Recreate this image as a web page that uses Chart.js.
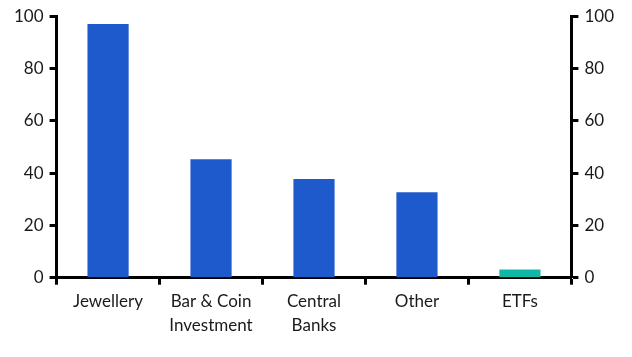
<!DOCTYPE html>
<html>
<head>
<meta charset="utf-8">
<script src="https://cdn.jsdelivr.net/npm/chart.js@4/dist/chart.umd.min.js"></script>
<style>
html,body{margin:0;padding:0;background:#fff;}
#wrap{width:632px;height:357px;position:relative;}
</style>
</head>
<body>
<div id="wrap"><canvas id="c" width="632" height="357"></canvas></div>
<script>
const categories = [["Jewellery"], ["Bar & Coin", "Investment"], ["Central", "Banks"], ["Other"], ["ETFs"]];
const values = [97, 45.3, 37.7, 32.7, 3.1];
const barColors = ["#1f5acd", "#1f5acd", "#1f5acd", "#1f5acd", "#12b8a6"];
const yTicks = [0, 20, 40, 60, 80, 100];

const font = {family: "Lato, 'Open Sans', sans-serif", size: 17};
const axisCommon = {
  min: 0, max: 100,
  border: {display: true, color: "#000", width: 3},
  grid: {drawOnChartArea: false, drawTicks: true, tickLength: 7, tickWidth: 3, tickColor: "#000"},
  ticks: {stepSize: 20, color: "#1a1a1a", font: font, padding: 6},
  afterBuildTicks: (ax) => { ax.ticks = yTicks.map(v => ({value: v})); }
};

new Chart(document.getElementById("c"), {
  type: "bar",
  data: {
    labels: categories,
    datasets: [{data: values, backgroundColor: barColors, barPercentage: 0.4, categoryPercentage: 1.0, yAxisID: "y"}]
  },
  options: {
    responsive: false,
    animation: false,
    layout: {padding: {left: 8, right: 12, top: 5, bottom: 15}},
    plugins: {legend: {display: false}, tooltip: {enabled: false}},
    scales: {
      x: {
        border: {display: true, color: "#000", width: 3},
        grid: {drawOnChartArea: false, drawTicks: true, tickLength: 7, tickWidth: 3, tickColor: "#000", offset: true},
        ticks: {color: "#1a1a1a", font: Object.assign({lineHeight: 1.45}, font), padding: 4, maxRotation: 0, autoSkip: false}
      },
      y: Object.assign({position: "left"}, axisCommon),
      y2: Object.assign({position: "right"}, axisCommon)
    }
  }
});
</script>
</body>
</html>
